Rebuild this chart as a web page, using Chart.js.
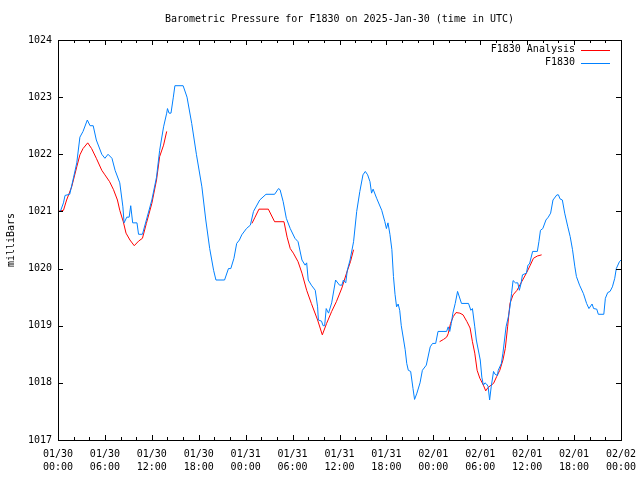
<!DOCTYPE html>
<html lang="en">
<head>
  <meta charset="UTF-8">
  <title>Barometric Pressure for F1830</title>
  <script src="https://cdn.jsdelivr.net/npm/chart.js"></script>
  <style>
    body {
      margin: 0;
      background: #fff;
    }
    canvas {
      display: block;
    }
  </style>
</head>
<body>
<canvas id="grafico" width="640" height="480"></canvas>

<script>
  // hours since 2025-01-30 00:00 UTC
  const blueHours = [
    0.0, 0.3, 0.7, 0.9, 1.5, 2.0, 2.4, 2.8, 3.2, 3.75, 4.1, 4.5, 4.9, 5.6, 6.0, 6.4, 6.9, 7.3, 7.9, 8.3,
    8.45, 8.8, 9.1, 9.3, 9.55, 10.1, 10.3, 10.8, 11.3, 12.0, 12.6, 13.0, 13.5, 13.9, 14.0, 14.2, 14.45, 14.75, 14.95, 16.0,
    16.5, 17.1, 17.7, 18.4, 18.9, 19.4, 19.9, 20.2, 21.3, 21.8, 22.1, 22.5, 22.85, 23.2, 23.5, 24.1, 24.6, 25.0, 25.8, 26.6,
    27.7, 28.2, 28.4, 28.8, 29.2, 29.7, 30.3, 30.7, 31.2, 31.6, 31.8, 32.0, 32.4, 32.9, 33.2, 33.3, 33.7, 33.9, 34.1, 34.3,
    34.6, 35.0, 35.5, 36.0, 36.3, 36.5, 36.8, 37.0, 37.35, 37.8, 38.2, 38.6, 39.0, 39.3, 39.6, 39.9, 40.1, 40.3, 40.75, 41.4,
    41.8, 42.0, 42.2, 42.45, 42.7, 42.9, 43.1, 43.3, 43.5, 43.7, 43.9, 44.2, 44.4, 44.6, 44.8, 45.1, 45.4, 45.6, 45.9, 46.3,
    46.6, 47.1, 47.6, 47.9, 48.3, 48.6, 49.7, 49.9, 50.1, 50.3, 50.5, 50.8, 51.1, 51.6, 52.5, 52.8, 53.0, 53.3, 53.5, 54.0,
    54.2, 54.4, 54.6, 54.8, 55.0, 55.2, 55.4, 55.7, 55.9, 56.2, 56.3, 56.7, 56.9, 57.3, 57.6, 57.8, 58.0, 58.2, 58.5, 58.8,
    59.0, 59.2, 59.4, 59.9, 60.1, 60.3, 60.7, 61.3, 61.5, 61.7, 62.0, 62.4, 62.7, 63.0, 63.3, 63.8, 64.0, 64.2, 64.5, 64.8,
    65.2, 65.5, 65.8, 66.1, 66.3, 66.7, 67.2, 67.6, 67.9, 68.3, 68.5, 68.9, 69.1, 69.8, 70.0, 70.3, 70.6, 70.9, 71.2, 71.4,
    71.8, 72.0
  ];
  const bluePressure = [
    1021.00, 1021.00, 1021.15, 1021.28, 1021.30, 1021.60, 1021.85, 1022.30, 1022.40, 1022.60, 1022.50, 1022.50, 1022.25, 1022.00, 1021.93, 1022.00, 1021.93, 1021.72, 1021.50, 1021.08,
    1020.80, 1020.90, 1020.90, 1021.10, 1020.80, 1020.80, 1020.60, 1020.60, 1020.85, 1021.20, 1021.60, 1022.07, 1022.48, 1022.72, 1022.80, 1022.72, 1022.72, 1023.00, 1023.20, 1023.20,
    1023.00, 1022.54, 1022.00, 1021.43, 1020.85, 1020.35, 1019.97, 1019.80, 1019.80, 1020.00, 1020.00, 1020.18, 1020.44, 1020.50, 1020.59, 1020.70, 1020.76, 1021.00, 1021.20, 1021.30,
    1021.30, 1021.40, 1021.38, 1021.17, 1020.88, 1020.70, 1020.53, 1020.47, 1020.15, 1020.06, 1020.10, 1019.80, 1019.71, 1019.62, 1019.33, 1019.10, 1019.08, 1019.00, 1019.00, 1019.30,
    1019.22, 1019.40, 1019.80, 1019.71, 1019.71, 1019.80, 1019.75, 1019.97, 1020.15, 1020.47, 1021.00, 1021.35, 1021.64, 1021.70, 1021.64, 1021.52, 1021.32, 1021.39, 1021.23, 1021.02,
    1020.82, 1020.70, 1020.80, 1020.60, 1020.33, 1019.86, 1019.55, 1019.33, 1019.38, 1019.27, 1019.00, 1018.75, 1018.58, 1018.34, 1018.22, 1018.20, 1017.90, 1017.71, 1017.82, 1018.00,
    1018.22, 1018.31, 1018.63, 1018.69, 1018.69, 1018.90, 1018.90, 1018.98, 1018.90, 1019.04, 1019.22, 1019.39, 1019.60, 1019.39, 1019.39, 1019.27, 1019.30, 1018.98, 1018.75, 1018.40,
    1018.10, 1017.96, 1018.00, 1017.98, 1017.94, 1017.70, 1017.93, 1018.20, 1018.15, 1018.13, 1018.22, 1018.34, 1018.52, 1018.98, 1019.16, 1019.33, 1019.56, 1019.79, 1019.75, 1019.75,
    1019.62, 1019.73, 1019.89, 1019.92, 1020.06, 1020.08, 1020.30, 1020.30, 1020.47, 1020.67, 1020.70, 1020.85, 1020.90, 1020.97, 1021.20, 1021.29, 1021.29, 1021.22, 1021.20, 1020.97,
    1020.73, 1020.56, 1020.33, 1020.03, 1019.86, 1019.71, 1019.56, 1019.39, 1019.30, 1019.38, 1019.30, 1019.29, 1019.20, 1019.20, 1019.48, 1019.58, 1019.60, 1019.68, 1019.83, 1020.00,
    1020.12, 1020.15
  ];

  // analysis series, null = no data (gap)
  const redHours = [
    0.0, 0.7, 1.1, 1.75, 2.4, 2.8, 3.2, 3.8, 4.3, 4.9, 5.6, 6.0, 6.6, 7.1, 7.6, 7.9, 8.35, 8.7, 9.2, 9.75,
    10.3, 10.8, 11.3, 12.0, 12.6, 13.0, 13.5, 13.9,
    19.0,
    24.8, 25.2, 25.7, 26.9, 27.7, 28.9, 29.3, 29.7, 30.1, 30.7, 31.2, 31.8, 32.4, 33.2, 33.8, 34.35, 35.0, 35.6, 36.3, 36.9,
    37.4, 37.8,
    43.0,
    48.8, 49.3, 49.7, 49.9, 50.2, 50.55, 50.9, 51.4, 51.8, 52.3, 52.7, 53.0, 53.3, 53.6, 53.95, 54.4, 54.7, 55.0, 55.7, 56.1,
    56.5, 56.9, 57.2, 57.5, 57.8, 58.2, 58.7, 59.3, 59.9, 60.4, 60.8, 61.3, 61.85
  ];
  const redPressure = [
    1021.00, 1021.02, 1021.20, 1021.43, 1021.78, 1021.99, 1022.10, 1022.20, 1022.10, 1021.93, 1021.72, 1021.64, 1021.52, 1021.38, 1021.20, 1021.02, 1020.82, 1020.62, 1020.50, 1020.40,
    1020.48, 1020.53, 1020.79, 1021.14, 1021.55, 1021.96, 1022.16, 1022.40,
    null,
    1020.79, 1020.90, 1021.04, 1021.04, 1020.82, 1020.82, 1020.55, 1020.35, 1020.27, 1020.12, 1019.92, 1019.62, 1019.39, 1019.10, 1018.84, 1019.04, 1019.25, 1019.42, 1019.66, 1019.92,
    1020.12, 1020.33,
    null,
    1018.72, 1018.76, 1018.80, 1018.86, 1019.04, 1019.16, 1019.23, 1019.22, 1019.19, 1019.07, 1018.96, 1018.72, 1018.52, 1018.22, 1018.08, 1017.96, 1017.86, 1017.92, 1017.99, 1018.11,
    1018.22, 1018.40, 1018.60, 1018.98, 1019.39, 1019.54, 1019.62, 1019.77, 1019.92, 1020.06, 1020.18, 1020.22, 1020.24
  ];

  const tickDates = ['01/30', '01/30', '01/30', '01/30', '01/31', '01/31', '01/31', '01/31', '02/01', '02/01', '02/01', '02/01', '02/02'];
  const tickTimes = ['00:00', '06:00', '12:00', '18:00', '00:00', '06:00', '12:00', '18:00', '00:00', '06:00', '12:00', '18:00', '00:00'];

  const fonte = "'DejaVu Sans Mono', monospace";

  function toPoints(xs, ys) {
    return xs.map((x, i) => ({ x: x, y: ys[i] }));
  }

  // moldura, marcas para dentro, titulo e legenda no estilo gnuplot
  const gnuplotStyle = {
    id: 'gnuplotStyle',
    afterDraw(chart) {
      const c = chart.ctx;
      const a = chart.chartArea;
      const xs = chart.scales.x;
      const ys = chart.scales.y;
      c.save();
      c.strokeStyle = '#000';
      c.lineWidth = 1;
      c.strokeRect(a.left + 0.5, a.top + 0.5, a.right - a.left, a.bottom - a.top);

      c.beginPath();
      for (let v = xs.min; v <= xs.max; v += 2) {
        const px = Math.round(xs.getPixelForValue(v)) + 0.5;
        const len = v % 6 === 0 ? 5 : 3;
        c.moveTo(px, a.bottom); c.lineTo(px, a.bottom - len);
        c.moveTo(px, a.top); c.lineTo(px, a.top + len);
      }
      for (let v = ys.min; v <= ys.max; v += 1) {
        const py = Math.round(ys.getPixelForValue(v)) + 0.5;
        c.moveTo(a.left, py); c.lineTo(a.left + 5, py);
        c.moveTo(a.right, py); c.lineTo(a.right - 5, py);
      }
      c.stroke();

      c.fillStyle = '#000';
      c.font = '10px ' + fonte;
      c.textBaseline = 'middle';
      c.textAlign = 'center';
      c.fillText('Barometric Pressure for F1830 on 2025-Jan-30 (time in UTC)', (a.left + a.right) / 2, 19);

      c.textAlign = 'right';
      chart.data.datasets.forEach((ds, i) => {
        const y = 49.5 + i * 13;
        c.fillStyle = '#000';
        c.fillText(ds.label, 575, y);
        c.strokeStyle = ds.borderColor;
        c.beginPath();
        c.moveTo(581, Math.round(y) + 0.5);
        c.lineTo(610, Math.round(y) + 0.5);
        c.stroke();
      });
      c.restore();
    }
  };

  const ctx = document.getElementById('grafico').getContext('2d');

  new Chart(ctx, {
    type: 'line',
    data: {
      datasets: [{
        label: 'F1830 Analysis',
        data: toPoints(redHours, redPressure),
        borderColor: '#ff0000',
        borderWidth: 1,
        pointRadius: 0,
        spanGaps: false,
        order: 1
      }, {
        label: 'F1830',
        data: toPoints(blueHours, bluePressure),
        borderColor: '#0080ff',
        borderWidth: 1,
        pointRadius: 0,
        order: 0
      }]
    },
    options: {
      responsive: false,
      animation: false,
      layout: { padding: { top: 40, right: 19, left: 0, bottom: 0 } },
      plugins: {
        legend: { display: false },
        title: { display: false },
        tooltip: { enabled: false }
      },
      scales: {
        x: {
          type: 'linear',
          min: 0,
          max: 72,
          grid: { display: false, drawTicks: false },
          border: { display: false },
          ticks: {
            stepSize: 6,
            autoSkip: false,
            maxRotation: 0,
            padding: 8,
            color: '#000',
            font: { family: fonte, size: 10, lineHeight: 1.3 },
            callback: (v) => [tickDates[v / 6], tickTimes[v / 6]]
          },
          afterFit: (s) => { s.height = 40; s.paddingLeft = 0; s.paddingRight = 0; }
        },
        y: {
          min: 1017,
          max: 1024,
          grid: { display: false, drawTicks: false },
          border: { display: false },
          ticks: {
            stepSize: 1,
            padding: 6,
            color: '#000',
            font: { family: fonte, size: 10 },
            callback: (v) => String(v)
          },
          title: {
            display: true,
            text: 'milliBars',
            color: '#000',
            padding: { top: 5, bottom: 0 },
            font: { family: fonte, size: 10 }
          },
          afterFit: (s) => { s.width = 58; s.paddingTop = 0; s.paddingBottom = 0; }
        }
      }
    },
    plugins: [gnuplotStyle]
  });
</script>

</body>
</html>
